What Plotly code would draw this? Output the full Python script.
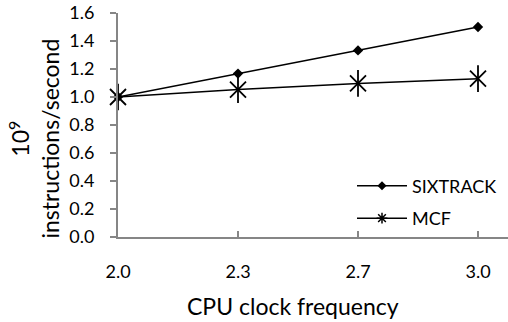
import plotly.graph_objects as go

categories = ["2.0", "2.3", "2.7", "3.0"]
sixtrack = [1.0, 1.167, 1.333, 1.5]
mcf = [1.0, 1.053, 1.097, 1.131]
y_ticks = [0.0, 0.2, 0.4, 0.6, 0.8, 1.0, 1.2, 1.4, 1.6]
series_names = ["SIXTRACK", "MCF"]

xpos = list(range(len(categories)))
FONT = "Lato"
GRAY = "#868686"

fig = go.Figure()
fig.add_trace(go.Scatter(
    x=xpos, y=sixtrack, name=series_names[0], mode="lines+markers",
    line=dict(color="black", width=1.5),
    marker=dict(symbol="diamond", size=8, color="black"),
    cliponaxis=False, showlegend=False,
))
fig.add_trace(go.Scatter(
    x=xpos, y=mcf, name=series_names[1], mode="lines+markers",
    line=dict(color="black", width=1.5),
    marker=dict(symbol="x-thin-open", size=16, color="black",
                line=dict(color="black", width=1.8)),
    cliponaxis=False, showlegend=False,
))
fig.add_trace(go.Scatter(
    x=xpos, y=mcf, mode="markers", showlegend=False,
    marker=dict(symbol="line-ns-open", size=19, color="black",
                line=dict(color="black", width=1.8)),
    cliponaxis=False, hoverinfo="skip",
))
# legend-only entries (no data points) with the compact legend glyphs
fig.add_trace(go.Scatter(
    x=[None], y=[None], name=series_names[0], mode="lines+markers",
    line=dict(color="black", width=1.5),
    marker=dict(symbol="diamond", size=7, color="black"),
    legendgroup="a",
))
fig.add_trace(go.Scatter(
    x=[None], y=[None], name=series_names[1], mode="lines+markers",
    line=dict(color="black", width=1.5),
    marker=dict(symbol="asterisk-open", size=9, color="black",
                line=dict(color="black", width=1.5)),
    legendgroup="b",
))

fig.update_layout(
    width=508, height=322,
    margin=dict(l=118, r=0, t=13, b=85),
    paper_bgcolor="white", plot_bgcolor="white",
    font=dict(family=FONT, size=18, color="black"),
    showlegend=True,
    legend=dict(x=0.6, y=0.156, xanchor="left", yanchor="middle",
                bgcolor="rgba(0,0,0,0)", font=dict(size=18, family=FONT),
                itemwidth=50, tracegroupgap=6, traceorder="grouped"),
    xaxis=dict(
        range=[0, 3.25], tickvals=xpos, ticktext=categories,
        showline=True, linecolor=GRAY, linewidth=2,
        ticks="inside", ticklen=6, tickcolor=GRAY, tickwidth=1.5,
        showgrid=False, zeroline=False, ticklabelstandoff=17,
        tickfont=dict(size=18, family=FONT),
    ),
    yaxis=dict(
        range=[0, 1.6], tickvals=y_ticks, tickformat=".1f",
        showline=True, linecolor=GRAY, linewidth=2,
        ticks="outside", ticklen=6, tickcolor=GRAY, tickwidth=1.5,
        showgrid=False, zeroline=False, ticklabelstandoff=12,
        tickfont=dict(size=18, family=FONT),
    ),
    annotations=[
        dict(text="10<sup>9</sup><br>instructions/second", textangle=-90,
             xref="paper", yref="paper", x=-0.215, y=0.44,
             xanchor="center", yanchor="middle", showarrow=False,
             font=dict(size=23, family=FONT)),
        dict(text="CPU clock frequency", xref="paper", yref="paper",
             x=0.449, y=-0.308, xanchor="center", yanchor="middle",
             showarrow=False, font=dict(size=23, family=FONT)),
    ],
)

fig.write_html(
    "out.html",
    config={"displayModeBar": False},
    post_script="document.body.style.margin='0';document.body.style.overflow='hidden';",
)
